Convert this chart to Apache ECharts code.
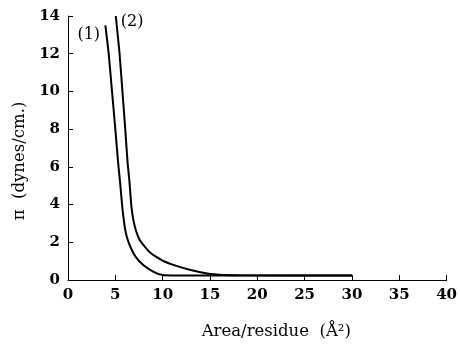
<!DOCTYPE html>
<html><head><meta charset="utf-8">
<script src="https://cdn.jsdelivr.net/npm/echarts@6/dist/echarts.min.js"></script>
<style>html,body{margin:0;padding:0;background:#fff}#c{width:460px;height:347px}</style>
</head><body><div id="c"></div>
<script>
const curve1 = [[3.95,13.5],[4.3,12],[4.65,10],[5.0,8],[5.3,6.2],[5.5,5.2],[5.75,3.8],[6.05,2.65],[6.3,2.15],[6.6,1.75],[7.15,1.23],[7.95,0.8],[9.0,0.45],[10,0.26],[11,0.24],[30,0.24]];
const curve2 = [[5.05,14],[5.45,12],[5.75,10],[6.05,8],[6.3,6.2],[6.48,5.3],[6.7,3.9],[6.9,3.2],[7.17,2.64],[7.55,2.15],[8.13,1.76],[8.7,1.45],[9.34,1.23],[10.2,0.98],[11.2,0.79],[12.96,0.53],[14.7,0.35],[16.5,0.27],[18,0.25],[30,0.24]];
const curveNames = ['(1)','(2)'];
const xTicks = [0,5,10,15,20,25,30,35,40];
const yTicks = [0,2,4,6,8,10,12,14];

const font = 'DejaVu Serif';
const chart = echarts.init(document.getElementById('c'));
const serie = (d) => ({type:'line', data:d, showSymbol:false, smooth:0.15,
  lineStyle:{color:'#000', width:2}, animation:false});
chart.setOption({
  animation:false,
  grid:{left:68, right:11, top:16, bottom:67},
  xAxis:{type:'value', min:xTicks[0], max:xTicks[xTicks.length-1], interval:5,
    axisLine:{lineStyle:{color:'#000', width:1}},
    axisTick:{inside:true, length:5, lineStyle:{color:'#000'}},
    splitLine:{show:false},
    axisLabel:{color:'#000', fontFamily:font, fontSize:15, fontWeight:'bold', margin:8},
    name:'Area/residue  (Å²)', nameLocation:'middle', nameGap:43,
    nameTextStyle:{color:'#000', fontFamily:font, fontSize:16.5, padding:[0,0,0,38]}
  },
  yAxis:{type:'value', min:yTicks[0], max:yTicks[yTicks.length-1], interval:2,
    axisLine:{show:true, lineStyle:{color:'#000', width:1}},
    axisTick:{show:true, inside:true, length:5, lineStyle:{color:'#000'}},
    splitLine:{show:false},
    axisLabel:{color:'#000', fontFamily:font, fontSize:15, fontWeight:'bold', margin:8},
    name:'π  (dynes/cm.)', nameLocation:'middle', nameGap:38,
    nameTextStyle:{color:'#000', fontFamily:font, fontSize:16.5, padding:[0,26,0,0]}
  },
  series:[serie(curve1), serie(curve2)]
});
const p1 = chart.convertToPixel({gridIndex:0}, curve1[0]);
const p2 = chart.convertToPixel({gridIndex:0}, curve2[0]);
chart.setOption({graphic:[
  {type:'text', left:p1[0]-28, top:p1[1]+1, style:{text:curveNames[0], fill:'#000', font:'16px "DejaVu Serif"'}},
  {type:'text', left:p2[0]+5, top:p2[1]-2, style:{text:curveNames[1], fill:'#000', font:'16px "DejaVu Serif"'}}
]});
</script></body></html>
